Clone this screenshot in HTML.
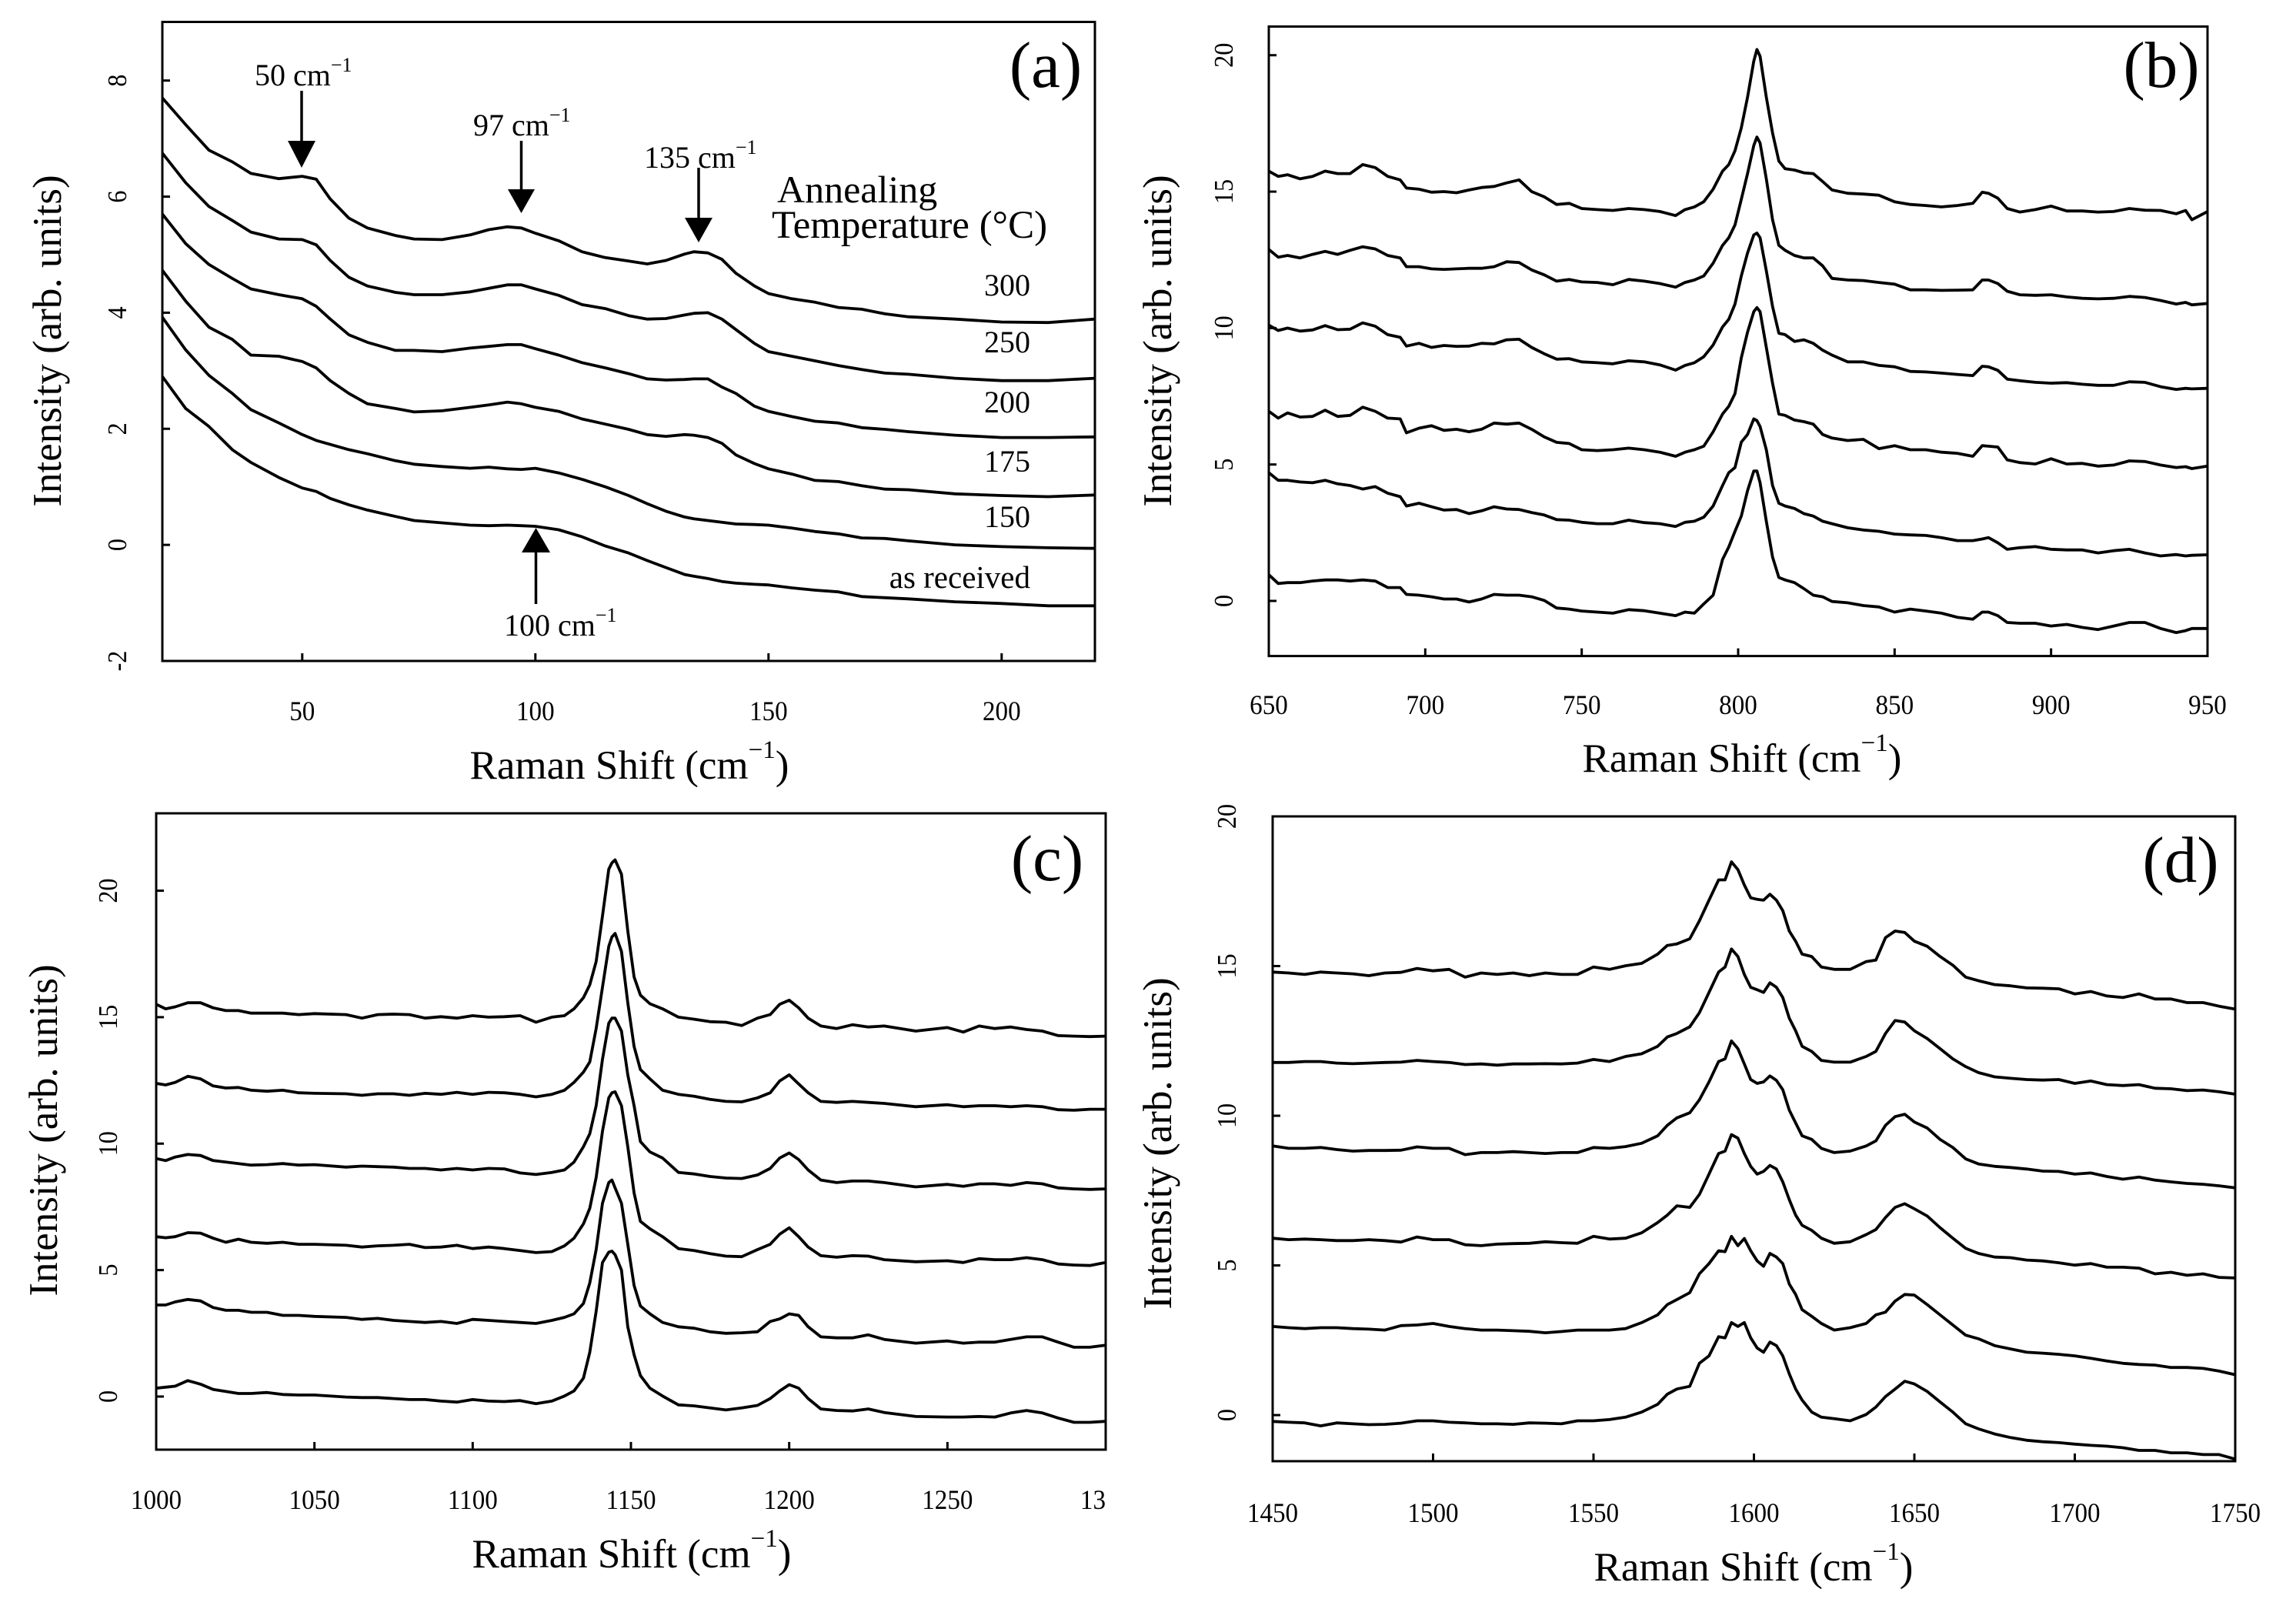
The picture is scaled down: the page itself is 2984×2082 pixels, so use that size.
<!DOCTYPE html>
<html lang="en">
<head>
<meta charset="utf-8">
<title>Raman spectra panels</title>
<style>
html,body{margin:0;padding:0;background:#fff;}
svg{display:block;}
text{font-family:"Liberation Serif",serif;fill:#000;}
</style>
</head>
<body>
<svg id="figure" xmlns="http://www.w3.org/2000/svg" width="2984" height="2082" viewBox="0 0 2984 2082">
<rect x="0" y="0" width="2984" height="2082" fill="#fff"/>

<g id="labels">
<text font-size="85" text-anchor="middle" x="1359" y="113">(a)</text>
<text font-size="85" text-anchor="middle" x="2809" y="113">(b)</text>
<text font-size="85" text-anchor="middle" x="1361" y="1144">(c)</text>
<text font-size="85" text-anchor="middle" x="2834" y="1146">(d)</text>

<text font-size="53" text-anchor="middle" x="818" y="1012">Raman Shift (cm<tspan font-size="33" dy="-27">−1</tspan><tspan dy="27">)</tspan></text>
<text font-size="53" text-anchor="middle" x="2264" y="1003">Raman Shift (cm<tspan font-size="33" dy="-27">−1</tspan><tspan dy="27">)</tspan></text>
<text font-size="53" text-anchor="middle" x="821" y="2037">Raman Shift (cm<tspan font-size="33" dy="-27">−1</tspan><tspan dy="27">)</tspan></text>
<text font-size="53" text-anchor="middle" x="2279" y="2054">Raman Shift (cm<tspan font-size="33" dy="-27">−1</tspan><tspan dy="27">)</tspan></text>

<text font-size="53" text-anchor="middle" transform="translate(79,443) rotate(-90)">Intensity (arb. units)</text>
<text font-size="53" text-anchor="middle" transform="translate(1522,443) rotate(-90)">Intensity (arb. units)</text>
<text font-size="53" text-anchor="middle" transform="translate(74,1469) rotate(-90)">Intensity (arb. units)</text>
<text font-size="53" text-anchor="middle" transform="translate(1522,1486) rotate(-90)">Intensity (arb. units)</text>

<text font-size="40" x="331" y="111">50 cm<tspan font-size="26" dy="-18">−1</tspan></text>
<text font-size="40" x="615" y="176">97 cm<tspan font-size="26" dy="-18">−1</tspan></text>
<text font-size="40" x="837" y="218">135 cm<tspan font-size="26" dy="-18">−1</tspan></text>
<text font-size="40" x="655" y="826">100 cm<tspan font-size="26" dy="-18">−1</tspan></text>

<text font-size="50" x="1010" y="263">Annealing</text>
<text font-size="51" x="1003" y="309">Temperature (°C)</text>
<text font-size="40" text-anchor="end" x="1339" y="384">300</text>
<text font-size="40" text-anchor="end" x="1339" y="458">250</text>
<text font-size="40" text-anchor="end" x="1339" y="536">200</text>
<text font-size="40" text-anchor="end" x="1339" y="613">175</text>
<text font-size="40" text-anchor="end" x="1339" y="685">150</text>
<text font-size="41" text-anchor="end" x="1339" y="764">as received</text>
</g>

<g id="arrows">
<g><line x1="392" y1="118" x2="392" y2="185" stroke="#000" stroke-width="3.5"/><polygon points="374,183 410,183 392,218" fill="#000"/></g>
<g><line x1="677.5" y1="183" x2="677.5" y2="250" stroke="#000" stroke-width="3.5"/><polygon points="660,246 695,246 677.5,277" fill="#000"/></g>
<g><line x1="908" y1="218" x2="908" y2="285" stroke="#000" stroke-width="3.5"/><polygon points="890,283 926,283 908,315" fill="#000"/></g>
<g><line x1="696.5" y1="715" x2="696.5" y2="785" stroke="#000" stroke-width="3.5"/><polygon points="678,718 715,718 696.5,686" fill="#000"/></g>
</g>

<g id="plots"></g>
</svg>

<script>
/* ---------- Panel (a) data ---------- */
var aCategories = [20,25,30,35,39,45,50,53,56,60,64,70,74,80,86,90,94,97,100,105,110,115,120,124,128,132,134,137,140,143,147,150,155,160,165,170,175,180,190,200,210,220];
var aAsReceived = [2.90,2.35,2.04,1.64,1.42,1.16,0.98,0.92,0.80,0.69,0.60,0.49,0.42,0.38,0.34,0.33,0.34,0.33,0.32,0.26,0.14,-0.02,-0.14,-0.27,-0.39,-0.51,-0.54,-0.58,-0.63,-0.66,-0.68,-0.69,-0.74,-0.78,-0.81,-0.89,-0.91,-0.93,-0.98,-1.01,-1.05,-1.05];
var a150 = [3.92,3.36,2.92,2.61,2.33,2.10,1.90,1.80,1.73,1.64,1.57,1.45,1.39,1.35,1.32,1.34,1.31,1.30,1.32,1.24,1.13,1.00,0.85,0.71,0.58,0.48,0.45,0.42,0.39,0.36,0.35,0.34,0.29,0.23,0.19,0.12,0.11,0.07,0.00,-0.03,-0.05,-0.06];
var a175 = [4.73,4.20,3.75,3.54,3.27,3.25,3.16,3.05,2.83,2.61,2.43,2.35,2.29,2.31,2.37,2.41,2.46,2.43,2.37,2.30,2.17,2.08,1.99,1.90,1.87,1.90,1.89,1.85,1.75,1.55,1.40,1.31,1.22,1.11,1.09,1.02,0.96,0.95,0.88,0.85,0.83,0.86];
var a200 = [5.70,5.19,4.83,4.59,4.41,4.31,4.24,4.11,3.89,3.62,3.49,3.35,3.35,3.33,3.39,3.42,3.45,3.45,3.38,3.27,3.14,3.05,2.95,2.86,2.84,2.85,2.86,2.86,2.72,2.61,2.39,2.30,2.21,2.13,2.10,2.02,1.99,1.95,1.89,1.85,1.85,1.86];
var a250 = [6.75,6.24,5.83,5.59,5.39,5.27,5.26,5.17,4.90,4.61,4.46,4.35,4.31,4.31,4.36,4.42,4.48,4.48,4.41,4.30,4.14,4.07,3.95,3.89,3.90,3.96,3.99,4.00,3.89,3.71,3.47,3.33,3.25,3.17,3.09,3.02,2.96,2.94,2.87,2.83,2.83,2.87];
var a300 = [7.70,7.24,6.80,6.60,6.40,6.31,6.35,6.30,5.96,5.63,5.46,5.33,5.27,5.26,5.34,5.43,5.48,5.46,5.37,5.24,5.05,4.95,4.89,4.84,4.90,5.01,5.05,5.03,4.92,4.68,4.46,4.33,4.24,4.18,4.09,4.06,3.98,3.93,3.89,3.84,3.83,3.89];
var aXTicks = [50,100,150,200];
var aXTickLabels = ['50','100','150','200'];
var aYTicks = [-2,0,2,4,6,8];
var aYTickLabels = ['-2','0','2','4','6','8'];

/* ---------- Panel (b) data ---------- */
var bCategories = [650,653,656,660,664,668,672,676,680,684,
688,692,694,698,702,706,710,714,718,722,
726,730,734,738,742,746,750,755,760,765,
770,775,780,783,786,789,792,795,797,799,
801,803,805,806,807,809,811,813,815,818,
821,824,827,830,835,840,845,850,855,860,
865,870,875,878,880,883,886,890,895,900,
905,910,915,920,925,930,935,940,943,945,950];
var bAsReceived = [0.96,0.64,0.67,0.67,0.73,0.77,0.77,0.73,0.77,0.73,
0.49,0.49,0.24,0.21,0.15,0.07,0.07,-0.04,0.07,0.24,
0.21,0.21,0.15,0.02,-0.26,-0.30,-0.37,-0.41,-0.45,-0.32,
-0.36,-0.45,-0.54,-0.41,-0.45,-0.11,0.21,1.52,1.98,2.55,
3.11,4.04,4.76,4.76,4.33,2.92,1.61,0.86,0.77,0.67,
0.45,0.21,0.15,-0.02,-0.07,-0.17,-0.22,-0.41,-0.30,-0.37,
-0.45,-0.60,-0.67,-0.41,-0.41,-0.54,-0.79,-0.82,-0.82,-0.92,
-0.86,-0.97,-1.05,-0.92,-0.79,-0.79,-1.01,-1.16,-1.09,-1.01,-1.01];
var b150 = [4.70,4.42,4.42,4.36,4.33,4.42,4.29,4.23,4.10,4.19,
3.95,3.82,3.48,3.58,3.45,3.33,3.35,3.20,3.30,3.45,
3.37,3.35,3.24,3.15,2.98,2.96,2.88,2.83,2.83,2.96,
2.87,2.83,2.73,2.88,2.92,3.07,3.48,4.23,4.70,4.89,
5.82,6.10,6.67,6.61,6.39,5.54,4.23,3.58,3.48,3.39,
3.20,3.11,2.92,2.83,2.68,2.60,2.55,2.45,2.42,2.40,
2.32,2.21,2.21,2.27,2.32,2.13,1.89,1.95,1.99,1.89,
1.87,1.87,1.76,1.84,1.89,1.76,1.65,1.70,1.65,1.67,1.69];
var b175 = [6.95,6.70,6.89,6.74,6.76,6.99,6.76,6.80,7.10,6.95,
6.70,6.67,6.16,6.33,6.42,6.25,6.29,6.20,6.29,6.52,
6.48,6.52,6.29,6.01,5.81,5.77,5.54,5.51,5.54,5.60,
5.54,5.45,5.30,5.45,5.54,5.67,6.20,6.85,7.13,7.60,
8.91,9.85,10.60,10.75,10.60,9.29,7.98,6.85,6.80,6.63,
6.57,6.48,6.10,5.97,5.88,5.92,5.58,5.69,5.54,5.54,
5.45,5.41,5.30,5.69,5.67,5.64,5.17,5.07,5.02,5.21,
5.02,5.04,4.94,4.98,5.13,5.11,4.98,4.89,4.92,4.85,4.94];
var b200 = [10.11,9.91,10.00,9.89,9.93,10.09,9.94,9.96,10.19,10.07,
9.76,9.66,9.34,9.44,9.29,9.36,9.33,9.34,9.44,9.42,
9.57,9.59,9.29,9.06,8.86,8.88,8.76,8.73,8.69,8.80,
8.76,8.65,8.46,8.63,8.73,8.95,9.38,10.04,10.32,10.88,
11.91,12.75,13.41,13.48,13.31,12.10,10.79,9.81,9.76,9.51,
9.57,9.44,9.19,9.01,8.76,8.76,8.63,8.58,8.41,8.39,
8.35,8.30,8.26,8.60,8.58,8.45,8.13,8.07,8.01,7.98,
8.00,7.94,7.90,7.90,8.03,8.01,7.85,7.75,7.79,7.77,7.79];
var b250 = [12.88,12.60,12.66,12.57,12.70,12.81,12.70,12.85,12.98,12.90,
12.66,12.57,12.25,12.25,12.17,12.15,12.17,12.19,12.19,12.25,
12.43,12.40,12.13,11.95,11.72,11.78,11.69,11.67,11.59,11.78,
11.72,11.63,11.50,11.67,11.76,11.91,12.38,13.03,13.31,13.78,
14.72,15.66,16.69,17.00,16.78,15.47,13.97,13.03,12.85,12.66,
12.57,12.57,12.28,11.82,11.76,11.74,11.67,11.61,11.40,11.40,
11.38,11.39,11.40,11.76,11.76,11.63,11.35,11.22,11.20,11.22,
11.14,11.09,11.07,11.09,11.16,11.12,11.01,10.88,10.94,10.85,10.90];
var b300 = [15.75,15.56,15.62,15.47,15.56,15.75,15.66,15.66,15.99,15.88,
15.56,15.43,15.13,15.09,14.98,15.00,14.96,15.06,15.15,15.19,
15.32,15.43,15.00,14.81,14.53,14.57,14.38,14.34,14.31,14.38,
14.34,14.27,14.12,14.34,14.44,14.63,15.09,15.75,15.99,16.50,
17.34,18.46,19.78,20.21,19.96,18.46,17.15,16.12,15.84,15.79,
15.69,15.66,15.37,15.06,14.94,14.91,14.87,14.63,14.53,14.49,
14.44,14.49,14.57,14.98,14.94,14.76,14.38,14.25,14.34,14.47,
14.29,14.29,14.25,14.27,14.38,14.32,14.31,14.19,14.31,13.97,14.27];
var bXTicks = [650,700,750,800,850,900,950];
var bXTickLabels = ['650','700','750','800','850','900','950'];
var bYTicks = [0,5,10,15,20];
var bYTickLabels = ['0','5','10','15','20'];

/* ---------- Panel (c) data ---------- */
var cCategories = [1000,1003,1006,1010,1014,1018,1022,1026,1030,1035,
1040,1045,1050,1060,1065,1070,1075,1080,1085,1090,
1095,1100,1105,1110,1115,1120,1125,1129,1132,1135,
1137,1139,1141,1143,1144,1145,1147,1149,1151,1153,
1156,1160,1165,1170,1175,1180,1185,1190,1194,1197,
1200,1203,1206,1210,1215,1220,1225,1230,1240,1250,
1255,1260,1265,1270,1275,1280,1285,1290,1295,1300];
var cAsReceived = [0.33,0.37,0.41,0.63,0.49,0.28,0.20,0.12,0.12,0.16,
0.08,0.06,0.06,-0.02,-0.04,-0.04,-0.08,-0.12,-0.12,-0.18,
-0.22,-0.12,-0.18,-0.20,-0.16,-0.28,-0.18,0.02,0.22,0.73,
1.75,3.37,5.30,5.71,5.75,5.61,5.00,2.76,1.65,0.83,
0.33,0.02,-0.33,-0.37,-0.45,-0.53,-0.45,-0.35,-0.08,0.22,
0.47,0.33,-0.08,-0.49,-0.55,-0.57,-0.49,-0.63,-0.79,-0.81,
-0.81,-0.79,-0.81,-0.65,-0.55,-0.65,-0.85,-1.02,-1.02,-0.98];
var c150 = [3.62,3.62,3.74,3.84,3.78,3.52,3.41,3.41,3.33,3.33,
3.21,3.21,3.17,3.13,3.05,3.09,3.01,2.97,2.93,2.97,
2.89,3.05,3.01,2.97,2.93,2.89,3.01,3.13,3.27,3.68,
4.49,5.81,7.64,8.46,8.56,8.25,7.64,6.02,4.39,3.58,
3.27,2.93,2.76,2.70,2.56,2.50,2.52,2.56,2.97,3.07,
3.27,3.21,2.76,2.36,2.32,2.32,2.44,2.26,2.11,2.20,
2.11,2.15,2.15,2.26,2.36,2.36,2.15,1.95,1.95,2.03];
var c175 = [6.32,6.28,6.32,6.48,6.46,6.26,6.10,6.22,6.10,6.06,
6.10,6.02,6.02,5.98,5.91,5.96,5.98,6.02,5.89,5.91,
5.98,5.85,5.91,5.85,5.77,5.69,5.73,5.96,6.26,6.83,
7.44,8.66,10.49,11.81,12.01,12.05,11.50,9.88,8.05,6.93,
6.63,6.32,5.85,5.77,5.65,5.55,5.53,5.81,6.02,6.42,
6.67,6.32,5.91,5.57,5.51,5.57,5.55,5.41,5.33,5.37,
5.30,5.45,5.41,5.41,5.49,5.41,5.24,5.20,5.18,5.30];
var c200 = [9.41,9.33,9.47,9.57,9.53,9.33,9.27,9.21,9.15,9.17,
9.21,9.15,9.17,9.07,9.11,9.09,9.07,9.02,9.02,8.96,
9.02,8.96,9.02,9.00,8.84,8.78,8.86,8.96,9.27,9.88,
10.39,11.50,13.33,14.76,14.96,14.96,14.45,12.72,11.50,10.08,
9.67,9.43,8.86,8.80,8.70,8.64,8.62,8.76,9.02,9.43,
9.63,9.37,8.96,8.56,8.46,8.52,8.52,8.46,8.29,8.39,
8.31,8.41,8.41,8.35,8.46,8.41,8.25,8.21,8.19,8.21];
var c250 = [12.38,12.32,12.42,12.66,12.56,12.28,12.20,12.22,12.11,12.07,
12.11,12.01,11.99,11.97,11.91,11.97,11.97,11.91,11.99,11.95,
12.03,11.95,12.03,12.01,11.95,11.85,11.95,12.11,12.42,12.83,
13.23,14.55,16.18,17.80,18.17,18.31,17.60,15.57,13.84,12.93,
12.56,12.11,11.95,11.87,11.75,11.67,11.65,11.81,12.01,12.48,
12.72,12.36,12.01,11.67,11.63,11.67,11.63,11.59,11.46,11.54,
11.46,11.50,11.50,11.46,11.50,11.46,11.34,11.32,11.36,11.36];
var c300 = [15.51,15.33,15.41,15.57,15.57,15.37,15.26,15.26,15.16,15.16,
15.16,15.10,15.14,15.10,14.96,15.10,15.12,15.10,14.96,15.02,
14.96,15.06,15.00,15.02,15.06,14.80,15.00,15.06,15.33,15.77,
16.28,17.20,19.00,20.85,21.10,21.22,20.65,18.41,16.59,15.87,
15.53,15.33,15.00,14.92,14.82,14.80,14.67,14.96,15.10,15.51,
15.67,15.37,14.96,14.65,14.55,14.70,14.61,14.65,14.45,14.59,
14.41,14.65,14.55,14.61,14.51,14.45,14.27,14.25,14.23,14.25];
var cXTicks = [1000,1050,1100,1150,1200,1250];
var cXTickLabels = ['1000','1050','1100','1150','1200','1250'];
var cYTicks = [0,5,10,15,20];
var cYTickLabels = ['0','5','10','15','20'];

/* ---------- Panel (d) data ---------- */
var dCategories = [1450,1455,1460,1465,1470,1475,1480,1485,1490,1495,
1500,1505,1510,1515,1520,1525,1530,1535,1540,1545,
1550,1555,1560,1565,1570,1573,1576,1580,1583,1586,
1589,1591,1593,1595,1597,1599,1601,1603,1605,1607,
1609,1611,1613,1615,1618,1621,1625,1630,1635,1638,
1641,1644,1647,1650,1654,1658,1662,1666,1670,1675,
1680,1685,1690,1695,1700,1705,1710,1715,1720,1725,
1730,1735,1740,1745,1750];
var dAsReceived = [-0.21,-0.24,-0.26,-0.36,-0.26,-0.29,-0.32,-0.31,-0.27,-0.19,
-0.19,-0.24,-0.26,-0.29,-0.29,-0.31,-0.26,-0.27,-0.29,-0.19,
-0.19,-0.15,-0.07,0.10,0.36,0.70,0.87,0.96,1.73,1.98,
2.62,2.58,3.09,2.96,3.09,2.58,2.24,2.10,2.44,2.32,
1.98,1.38,0.87,0.50,0.10,-0.07,-0.12,-0.19,0.02,0.27,
0.62,0.87,1.13,1.04,0.79,0.44,0.10,-0.29,-0.46,-0.63,
-0.75,-0.84,-0.89,-0.92,-0.97,-1.01,-1.04,-1.09,-1.18,-1.18,
-1.26,-1.26,-1.32,-1.32,-1.47];
var d150 = [2.96,2.92,2.89,2.92,2.92,2.89,2.87,2.84,2.99,3.01,
3.06,2.96,2.89,2.84,2.84,2.82,2.80,2.75,2.79,2.84,
2.84,2.84,2.89,3.09,3.35,3.69,3.86,4.09,4.72,5.06,
5.49,5.46,5.97,5.66,5.90,5.49,5.15,4.97,5.40,5.28,
5.06,4.38,4.03,3.52,3.30,3.06,2.84,2.92,3.06,3.35,
3.44,3.81,4.03,4.01,3.69,3.35,3.01,2.67,2.55,2.32,
2.21,2.10,2.07,2.03,1.98,1.90,1.81,1.73,1.69,1.67,
1.59,1.59,1.56,1.47,1.35];
var d175 = [5.91,5.86,5.88,5.86,5.83,5.83,5.86,5.83,5.78,5.95,
5.86,5.86,5.69,5.66,5.71,5.73,5.74,5.79,5.76,5.74,
5.97,5.88,5.91,6.09,6.43,6.68,6.99,6.94,7.37,8.05,
8.74,8.82,9.37,9.25,8.74,8.31,8.05,8.14,8.34,8.22,
7.79,7.20,6.68,6.34,6.17,5.91,5.74,5.79,6.03,6.20,
6.60,6.94,7.06,6.89,6.65,6.26,5.91,5.57,5.40,5.28,
5.26,5.18,5.15,5.09,5.01,5.06,4.94,4.94,4.91,4.72,
4.77,4.67,4.72,4.60,4.58];
var d200 = [8.99,8.91,8.91,8.94,8.87,8.82,8.84,8.84,8.85,8.96,
8.91,8.91,8.70,8.77,8.77,8.80,8.77,8.74,8.77,8.77,
8.94,8.91,8.97,9.08,9.33,9.68,9.93,10.10,10.53,11.13,
11.81,11.90,12.50,12.24,11.73,11.21,11.08,11.13,11.33,11.18,
10.87,10.19,9.76,9.33,9.21,8.91,8.77,8.82,8.99,9.16,
9.68,9.97,10.05,9.79,9.59,9.21,8.94,8.56,8.39,8.31,
8.27,8.22,8.15,8.14,8.05,8.09,7.97,7.88,7.95,7.85,
7.79,7.74,7.71,7.66,7.59];
var d250 = [11.78,11.78,11.81,11.81,11.76,11.74,11.76,11.78,11.79,11.85,
11.81,11.78,11.71,11.73,11.69,11.73,11.73,11.74,11.73,11.76,
11.88,11.81,11.98,12.07,12.32,12.63,12.75,12.97,13.44,14.12,
14.80,14.97,15.57,15.32,14.72,14.29,14.21,14.12,14.44,14.29,
13.95,13.26,12.84,12.32,12.15,11.85,11.79,11.79,11.98,12.15,
12.75,13.18,13.13,12.84,12.58,12.24,11.90,11.64,11.44,11.30,
11.25,11.21,11.19,11.21,11.08,11.16,11.04,11.01,11.04,10.92,
10.90,10.84,10.86,10.80,10.72];
var d300 = [14.80,14.77,14.72,14.80,14.77,14.74,14.68,14.77,14.79,14.92,
14.84,14.89,14.63,14.77,14.72,14.77,14.68,14.77,14.72,14.72,
14.97,14.89,15.01,15.09,15.40,15.69,15.74,15.91,16.51,17.20,
17.88,17.88,18.48,18.22,17.71,17.28,17.23,17.20,17.40,17.20,
16.85,16.17,15.83,15.40,15.32,14.97,14.89,14.89,15.15,15.20,
15.95,16.17,16.12,15.83,15.66,15.32,15.03,14.63,14.51,14.38,
14.34,14.27,14.26,14.24,14.07,14.15,14.00,13.95,14.07,13.90,
13.90,13.78,13.78,13.66,13.56];
var dXTicks = [1450,1500,1550,1600,1650,1700,1750];
var dXTickLabels = ['1450','1500','1550','1600','1650','1700','1750'];
var dYTicks = [0,5,10,15,20];
var dYTickLabels = ['0','5','10','15','20'];

/* ---------- Drawing ---------- */
var SVG_NS = 'http://www.w3.org/2000/svg';
var root = document.getElementById('plots');

function panelScales(frame, xDomain, yDomain) {
  return {
    x: function (v) { return frame.left + (v - xDomain[0]) / (xDomain[1] - xDomain[0]) * (frame.right - frame.left); },
    y: function (v) { return frame.bottom - (v - yDomain[0]) / (yDomain[1] - yDomain[0]) * (frame.bottom - frame.top); }
  };
}

function drawPanel(id, frame, xDomain, yDomain, categories, seriesList, seriesNames, xTicks, xLabels, yTicks, yLabels, xLabelY, yLabelX) {
  var s = panelScales(frame, xDomain, yDomain);
  var g = document.createElementNS(SVG_NS, 'g');
  
  
  root.appendChild(g);

  var box = document.createElementNS(SVG_NS, 'rect');
  
  
  box.setAttribute('x', frame.left);
  box.setAttribute('y', frame.top);
  box.setAttribute('width', frame.right - frame.left);
  box.setAttribute('height', frame.bottom - frame.top);
  box.setAttribute('fill', 'none');
  box.setAttribute('stroke', '#000');
  box.setAttribute('stroke-width', '3');
  g.appendChild(box);

  xTicks.forEach(function (t, i) {
    var tick = document.createElementNS(SVG_NS, 'line');
    
    
    tick.setAttribute('x1', s.x(t));
    tick.setAttribute('x2', s.x(t));
    tick.setAttribute('y1', frame.bottom);
    tick.setAttribute('y2', frame.bottom - 10);
    tick.setAttribute('stroke', '#000');
    tick.setAttribute('stroke-width', '3');
    g.appendChild(tick);

    var label = document.createElementNS(SVG_NS, 'text');
    
    
    label.setAttribute('font-size', '36');
    label.setAttribute('text-anchor', 'middle');
    label.setAttribute('transform', 'translate(' + s.x(t) + ',' + xLabelY + ') scale(.92,1)');
    label.textContent = xLabels[i];
    g.appendChild(label);
  });

  yTicks.forEach(function (t, i) {
    var tick = document.createElementNS(SVG_NS, 'line');
    
    
    tick.setAttribute('x1', frame.left);
    tick.setAttribute('x2', frame.left + 10);
    tick.setAttribute('y1', s.y(t));
    tick.setAttribute('y2', s.y(t));
    tick.setAttribute('stroke', '#000');
    tick.setAttribute('stroke-width', '3');
    g.appendChild(tick);

    var label = document.createElementNS(SVG_NS, 'text');
    
    
    label.setAttribute('font-size', '35');
    label.setAttribute('text-anchor', 'middle');
    label.setAttribute('transform', 'translate(' + yLabelX + ',' + s.y(t) + ') rotate(-90) scale(.92,1)');
    label.textContent = yLabels[i];
    g.appendChild(label);
  });

  seriesList.forEach(function (values, k) {
    var line = document.createElementNS(SVG_NS, 'polyline');
    
    
    var pts = categories.map(function (c, i) { return s.x(c).toFixed(1) + ',' + s.y(values[i]).toFixed(1); }).join(' ');
    line.setAttribute('points', pts);
    line.setAttribute('fill', 'none');
    line.setAttribute('stroke', '#000');
    line.setAttribute('stroke-width', '3.8');
    line.setAttribute('stroke-linejoin', 'round');
    g.appendChild(line);
  });
}

var seriesNames = ['as-received', '150', '175', '200', '250', '300'];

drawPanel('a', {left: 211, right: 1423, top: 28.5, bottom: 859}, [20, 220], [-2, 9.01], aCategories,
  [aAsReceived, a150, a175, a200, a250, a300], seriesNames, aXTicks, aXTickLabels, aYTicks, aYTickLabels, 936, 164);
drawPanel('b', {left: 1649, right: 2869, top: 34.5, bottom: 852.6}, [650, 950], [-2.02, 21.05], bCategories,
  [bAsReceived, b150, b175, b200, b250, b300], seriesNames, bXTicks, bXTickLabels, bYTicks, bYTickLabels, 928, 1602);
drawPanel('c', {left: 203, right: 1437, top: 1057, bottom: 1884}, [1000, 1300], [-2.1, 23.06], cCategories,
  [cAsReceived, c150, c175, c200, c250, c300], seriesNames, cXTicks, cXTickLabels, cYTicks, cYTickLabels, 1961, 152);
drawPanel('d', {left: 1654, right: 2905, top: 1061, bottom: 1899}, [1450, 1750], [-1.54, 20], dCategories,
  [dAsReceived, d150, d175, d200, d250, d300], seriesNames, dXTicks, dXTickLabels, dYTicks, dYTickLabels, 1978, 1606);

/* Clipped final tick label on panel (c) */
var clippedTickLabel = document.createElementNS(SVG_NS, 'text');


clippedTickLabel.setAttribute('font-size', '36');
clippedTickLabel.setAttribute('text-anchor', 'end');
clippedTickLabel.setAttribute('transform', 'translate(1437,1961) scale(.92,1)');
clippedTickLabel.textContent = '13';
root.appendChild(clippedTickLabel);
</script>
</body>
</html>
